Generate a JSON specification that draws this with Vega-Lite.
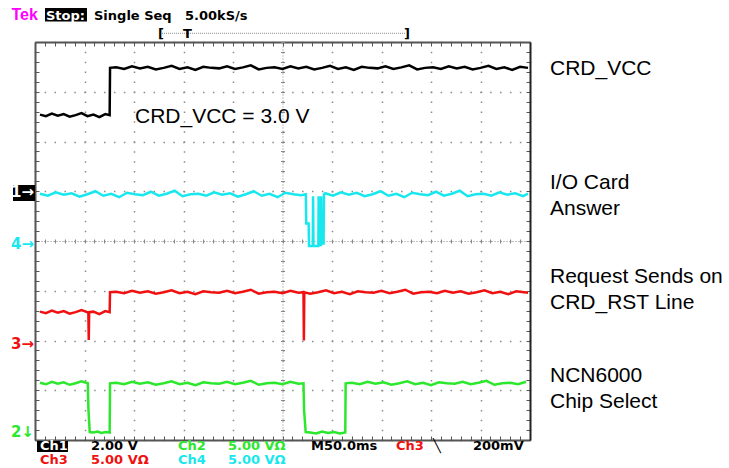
{
  "$schema": "https://vega.github.io/schema/vega-lite/v6.json",
  "width": 495,
  "height": 398,
  "autosize": {"type": "none"},
  "padding": {"left": 35, "top": 42, "right": 199, "bottom": 28},
  "background": "white",
  "config": {
    "view": {"stroke": null},
    "axis": {"labels": false, "domain": false, "ticks": false, "grid": false}
  },
  "resolve": {"axis": {"x": "independent", "y": "independent"}},
  "datasets": {
    "boxes": [
      {"t": 10.1, "t2": 52.5, "v": 8.683, "v2": 8.412},
      {"t": 2.0, "t2": 33.3, "v": -0.02, "v2": -0.241},
      {"t": -22.2, "t2": 0, "v": 5.126, "v2": 4.804}
    ],
    "trig": [{"t": 128.3, "t2": 373.7, "v": 8.175}],
    "labels": [
      {"label": "CRD_VCC", "t": 520.2, "v": 7.337},
      {"label": "I/O Card", "t": 520.2, "v": 5.045},
      {"label": "Answer", "t": 520.2, "v": 4.523},
      {"label": "Request Sends on", "t": 520.2, "v": 3.156},
      {"label": "CRD_RST Line", "t": 520.2, "v": 2.633},
      {"label": "NCN6000", "t": 520.2, "v": 1.166},
      {"label": "Chip Select", "t": 520.2, "v": 0.643},
      {"label": "CRD_VCC = 3.0 V", "t": 101.0, "v": 6.372}
    ],
    "header": [
      {"label": "Tek", "t": -23.7, "v": 8.442, "c": "m"}
    ],
    "status": [
      {"label": "Stop:", "t": 11.1, "v": 8.442, "c": "w"},
      {"label": "Single Seq", "t": 59.6, "v": 8.442, "c": "ch1"},
      {"label": "5.00kS/s", "t": 151.5, "v": 8.442, "c": "ch1"},
      {"label": "[", "t": 124.2, "v": 8.08, "c": "ch1"},
      {"label": "T", "t": 149.5, "v": 8.08, "c": "ch1"},
      {"label": "]", "t": 372.7, "v": 8.08, "c": "ch1"},
      {"label": "Ch1", "t": 5.05, "v": -0.191, "c": "w"},
      {"label": "2.00 V", "t": 56.6, "v": -0.191, "c": "ch1"},
      {"label": "Ch2", "t": 144.4, "v": -0.191, "c": "ch2"},
      {"label": "5.00 VΩ", "t": 194.9, "v": -0.191, "c": "ch2"},
      {"label": "M50.0ms", "t": 278.8, "v": -0.191, "c": "ch1"},
      {"label": "Ch3", "t": 364.6, "v": -0.191, "c": "ch3"},
      {"label": "╲", "t": 402.0, "v": -0.191, "c": "ch1"},
      {"label": "200mV", "t": 442.4, "v": -0.191, "c": "ch1"},
      {"label": "Ch3", "t": 5.05, "v": -0.492, "c": "ch3"},
      {"label": "5.00 VΩ", "t": 56.6, "v": -0.492, "c": "ch3"},
      {"label": "Ch4", "t": 144.4, "v": -0.492, "c": "ch4"},
      {"label": "5.00 VΩ", "t": 194.9, "v": -0.492, "c": "ch4"}
    ],
    "markers": [
      {"label": "1→", "t": -1, "v": 4.884, "c": "w"},
      {"label": "4→", "t": -1, "v": 3.839, "c": "ch4"},
      {"label": "3→", "t": -1, "v": 1.829, "c": "ch3"},
      {"label": "2↓", "t": -1, "v": 0.06, "c": "ch2"}
    ],
    "traces": [
      {"c":"ch1","t":5,"v":6.54},{"c":"ch1","t":11,"v":6.51},{"c":"ch1","t":17,"v":6.56},{"c":"ch1","t":23,"v":6.52},{"c":"ch1","t":29,"v":6.55},{"c":"ch1","t":35,"v":6.50},{"c":"ch1","t":41,"v":6.53},{"c":"ch1","t":47,"v":6.57},{"c":"ch1","t":53,"v":6.51},{"c":"ch1","t":59,"v":6.54},{"c":"ch1","t":65,"v":6.49},{"c":"ch1","t":71,"v":6.55},{"c":"ch1","t":75.4,"v":6.53},
      {"c":"ch1","t":75.8,"v":7.48},{"c":"ch1","t":82,"v":7.49},{"c":"ch1","t":90,"v":7.46},{"c":"ch1","t":98,"v":7.51},{"c":"ch1","t":106,"v":7.47},{"c":"ch1","t":114,"v":7.50},{"c":"ch1","t":122,"v":7.45},{"c":"ch1","t":130,"v":7.48},{"c":"ch1","t":138,"v":7.52},{"c":"ch1","t":146,"v":7.46},{"c":"ch1","t":154,"v":7.49},{"c":"ch1","t":162,"v":7.44},{"c":"ch1","t":170,"v":7.50},{"c":"ch1","t":178,"v":7.48},{"c":"ch1","t":186,"v":7.47},{"c":"ch1","t":194,"v":7.51},{"c":"ch1","t":202,"v":7.46},{"c":"ch1","t":210,"v":7.49},{"c":"ch1","t":218,"v":7.53},{"c":"ch1","t":226,"v":7.45},{"c":"ch1","t":234,"v":7.48},{"c":"ch1","t":242,"v":7.49},{"c":"ch1","t":250,"v":7.46},{"c":"ch1","t":258,"v":7.51},{"c":"ch1","t":266,"v":7.47},{"c":"ch1","t":274,"v":7.50},{"c":"ch1","t":282,"v":7.45},{"c":"ch1","t":290,"v":7.48},{"c":"ch1","t":298,"v":7.52},{"c":"ch1","t":306,"v":7.46},{"c":"ch1","t":314,"v":7.49},{"c":"ch1","t":322,"v":7.44},{"c":"ch1","t":330,"v":7.50},{"c":"ch1","t":338,"v":7.48},{"c":"ch1","t":346,"v":7.47},{"c":"ch1","t":354,"v":7.51},{"c":"ch1","t":362,"v":7.46},{"c":"ch1","t":370,"v":7.49},{"c":"ch1","t":378,"v":7.53},{"c":"ch1","t":386,"v":7.45},{"c":"ch1","t":394,"v":7.48},{"c":"ch1","t":402,"v":7.49},{"c":"ch1","t":410,"v":7.46},{"c":"ch1","t":418,"v":7.51},{"c":"ch1","t":426,"v":7.47},{"c":"ch1","t":434,"v":7.50},{"c":"ch1","t":442,"v":7.45},{"c":"ch1","t":450,"v":7.48},{"c":"ch1","t":458,"v":7.52},{"c":"ch1","t":466,"v":7.46},{"c":"ch1","t":474,"v":7.49},{"c":"ch1","t":482,"v":7.44},{"c":"ch1","t":490,"v":7.50},{"c":"ch1","t":498,"v":7.48},

      {"c":"ch4","t":5,"v":4.95},{"c":"ch4","t":13,"v":4.91},{"c":"ch4","t":21,"v":4.98},{"c":"ch4","t":29,"v":4.93},{"c":"ch4","t":37,"v":4.96},{"c":"ch4","t":45,"v":4.89},{"c":"ch4","t":53,"v":4.94},{"c":"ch4","t":61,"v":5.00},{"c":"ch4","t":69,"v":4.91},{"c":"ch4","t":77,"v":4.95},{"c":"ch4","t":85,"v":4.88},{"c":"ch4","t":93,"v":4.97},{"c":"ch4","t":101,"v":4.94},{"c":"ch4","t":109,"v":4.92},{"c":"ch4","t":117,"v":4.99},{"c":"ch4","t":125,"v":4.91},{"c":"ch4","t":133,"v":4.95},{"c":"ch4","t":141,"v":5.01},{"c":"ch4","t":149,"v":4.90},{"c":"ch4","t":157,"v":4.94},{"c":"ch4","t":165,"v":4.95},{"c":"ch4","t":173,"v":4.91},{"c":"ch4","t":181,"v":4.98},{"c":"ch4","t":189,"v":4.93},{"c":"ch4","t":197,"v":4.96},{"c":"ch4","t":205,"v":4.89},{"c":"ch4","t":213,"v":4.94},{"c":"ch4","t":221,"v":5.00},{"c":"ch4","t":229,"v":4.91},{"c":"ch4","t":237,"v":4.95},{"c":"ch4","t":245,"v":4.88},{"c":"ch4","t":253,"v":4.97},{"c":"ch4","t":261,"v":4.94},{"c":"ch4","t":269,"v":4.92},{"c":"ch4","t":273.6,"v":4.94},
      {"c":"ch4","t":274.0,"v":4.35},{"c":"ch4","t":276.4,"v":4.35},{"c":"ch4","t":276.8,"v":3.90},{"c":"ch4","t":280.6,"v":3.90},{"c":"ch4","t":280.9,"v":4.90},{"c":"ch4","t":281.3,"v":3.90},{"c":"ch4","t":286.2,"v":3.90},{"c":"ch4","t":286.5,"v":4.90},{"c":"ch4","t":286.9,"v":3.92},{"c":"ch4","t":288.8,"v":3.92},{"c":"ch4","t":289.1,"v":4.90},{"c":"ch4","t":289.5,"v":3.95},{"c":"ch4","t":291.5,"v":3.95},{"c":"ch4","t":291.9,"v":4.94},
      {"c":"ch4","t":293,"v":4.96},{"c":"ch4","t":301,"v":4.91},{"c":"ch4","t":309,"v":4.98},{"c":"ch4","t":317,"v":4.93},{"c":"ch4","t":325,"v":4.97},{"c":"ch4","t":333,"v":4.90},{"c":"ch4","t":341,"v":4.94},{"c":"ch4","t":349,"v":5.00},{"c":"ch4","t":357,"v":4.91},{"c":"ch4","t":365,"v":4.95},{"c":"ch4","t":373,"v":4.88},{"c":"ch4","t":381,"v":4.97},{"c":"ch4","t":389,"v":4.94},{"c":"ch4","t":397,"v":4.92},{"c":"ch4","t":405,"v":4.99},{"c":"ch4","t":413,"v":4.91},{"c":"ch4","t":421,"v":4.95},{"c":"ch4","t":429,"v":5.01},{"c":"ch4","t":437,"v":4.90},{"c":"ch4","t":445,"v":4.94},{"c":"ch4","t":453,"v":4.95},{"c":"ch4","t":461,"v":4.91},{"c":"ch4","t":469,"v":4.98},{"c":"ch4","t":477,"v":4.93},{"c":"ch4","t":485,"v":4.96},{"c":"ch4","t":493,"v":4.90},{"c":"ch4","t":498,"v":4.95},

      {"c":"ch3","t":5,"v":2.58},{"c":"ch3","t":11,"v":2.55},{"c":"ch3","t":17,"v":2.60},{"c":"ch3","t":23,"v":2.56},{"c":"ch3","t":29,"v":2.59},{"c":"ch3","t":35,"v":2.54},{"c":"ch3","t":41,"v":2.57},{"c":"ch3","t":47,"v":2.61},{"c":"ch3","t":53.9,"v":2.56},{"c":"ch3","t":54.3,"v":2.01},{"c":"ch3","t":54.7,"v":2.57},{"c":"ch3","t":59,"v":2.58},{"c":"ch3","t":65,"v":2.53},{"c":"ch3","t":71,"v":2.59},{"c":"ch3","t":75.4,"v":2.57},
      {"c":"ch3","t":75.8,"v":2.97},{"c":"ch3","t":82,"v":2.98},{"c":"ch3","t":90,"v":2.95},{"c":"ch3","t":98,"v":3.00},{"c":"ch3","t":106,"v":2.96},{"c":"ch3","t":114,"v":2.99},{"c":"ch3","t":122,"v":2.94},{"c":"ch3","t":130,"v":2.97},{"c":"ch3","t":138,"v":3.01},{"c":"ch3","t":146,"v":2.95},{"c":"ch3","t":154,"v":2.98},{"c":"ch3","t":162,"v":2.93},{"c":"ch3","t":170,"v":2.99},{"c":"ch3","t":178,"v":2.97},{"c":"ch3","t":186,"v":2.96},{"c":"ch3","t":194,"v":3.00},{"c":"ch3","t":202,"v":2.95},{"c":"ch3","t":210,"v":2.98},{"c":"ch3","t":218,"v":3.02},{"c":"ch3","t":226,"v":2.94},{"c":"ch3","t":234,"v":2.97},{"c":"ch3","t":242,"v":2.98},{"c":"ch3","t":250,"v":2.95},{"c":"ch3","t":258,"v":3.00},{"c":"ch3","t":266,"v":2.96},{"c":"ch3","t":271.2,"v":2.97},{"c":"ch3","t":271.6,"v":2.00},{"c":"ch3","t":272.0,"v":2.97},{"c":"ch3","t":278,"v":2.94},{"c":"ch3","t":286,"v":2.97},{"c":"ch3","t":294,"v":3.01},{"c":"ch3","t":302,"v":2.95},{"c":"ch3","t":310,"v":2.98},{"c":"ch3","t":318,"v":2.93},{"c":"ch3","t":326,"v":2.99},{"c":"ch3","t":334,"v":2.97},{"c":"ch3","t":342,"v":2.96},{"c":"ch3","t":350,"v":3.00},{"c":"ch3","t":358,"v":2.95},{"c":"ch3","t":366,"v":2.98},{"c":"ch3","t":374,"v":3.02},{"c":"ch3","t":382,"v":2.94},{"c":"ch3","t":390,"v":2.97},{"c":"ch3","t":398,"v":2.98},{"c":"ch3","t":406,"v":2.95},{"c":"ch3","t":414,"v":3.00},{"c":"ch3","t":422,"v":2.96},{"c":"ch3","t":430,"v":2.99},{"c":"ch3","t":438,"v":2.94},{"c":"ch3","t":446,"v":2.97},{"c":"ch3","t":454,"v":3.01},{"c":"ch3","t":462,"v":2.95},{"c":"ch3","t":470,"v":2.98},{"c":"ch3","t":478,"v":2.93},{"c":"ch3","t":486,"v":2.99},{"c":"ch3","t":494,"v":2.97},{"c":"ch3","t":498,"v":2.96},

      {"c":"ch2","t":5,"v":1.15},{"c":"ch2","t":11,"v":1.12},{"c":"ch2","t":17,"v":1.17},{"c":"ch2","t":23,"v":1.13},{"c":"ch2","t":29,"v":1.16},{"c":"ch2","t":35,"v":1.11},{"c":"ch2","t":41,"v":1.14},{"c":"ch2","t":47,"v":1.18},{"c":"ch2","t":53.3,"v":1.14},{"c":"ch2","t":54.0,"v":0.60},{"c":"ch2","t":55.3,"v":0.16},{"c":"ch2","t":59,"v":0.15},{"c":"ch2","t":63,"v":0.17},{"c":"ch2","t":67,"v":0.14},{"c":"ch2","t":71,"v":0.16},{"c":"ch2","t":75.4,"v":0.15},
      {"c":"ch2","t":75.8,"v":1.14},{"c":"ch2","t":82,"v":1.15},{"c":"ch2","t":90,"v":1.12},{"c":"ch2","t":98,"v":1.17},{"c":"ch2","t":106,"v":1.13},{"c":"ch2","t":114,"v":1.16},{"c":"ch2","t":122,"v":1.11},{"c":"ch2","t":130,"v":1.14},{"c":"ch2","t":138,"v":1.18},{"c":"ch2","t":146,"v":1.12},{"c":"ch2","t":154,"v":1.15},{"c":"ch2","t":162,"v":1.10},{"c":"ch2","t":170,"v":1.16},{"c":"ch2","t":178,"v":1.14},{"c":"ch2","t":186,"v":1.13},{"c":"ch2","t":194,"v":1.17},{"c":"ch2","t":202,"v":1.12},{"c":"ch2","t":210,"v":1.15},{"c":"ch2","t":218,"v":1.19},{"c":"ch2","t":226,"v":1.11},{"c":"ch2","t":234,"v":1.14},{"c":"ch2","t":242,"v":1.15},{"c":"ch2","t":250,"v":1.12},{"c":"ch2","t":258,"v":1.17},{"c":"ch2","t":266,"v":1.13},{"c":"ch2","t":271.2,"v":1.14},{"c":"ch2","t":271.8,"v":0.60},{"c":"ch2","t":273.4,"v":0.16},{"c":"ch2","t":278,"v":0.15},{"c":"ch2","t":284,"v":0.13},{"c":"ch2","t":290,"v":0.17},{"c":"ch2","t":296,"v":0.14},{"c":"ch2","t":302,"v":0.16},{"c":"ch2","t":308,"v":0.13},{"c":"ch2","t":313.4,"v":0.15},
      {"c":"ch2","t":313.8,"v":1.14},{"c":"ch2","t":320,"v":1.15},{"c":"ch2","t":328,"v":1.12},{"c":"ch2","t":336,"v":1.17},{"c":"ch2","t":344,"v":1.13},{"c":"ch2","t":352,"v":1.16},{"c":"ch2","t":360,"v":1.11},{"c":"ch2","t":368,"v":1.14},{"c":"ch2","t":376,"v":1.18},{"c":"ch2","t":384,"v":1.12},{"c":"ch2","t":392,"v":1.15},{"c":"ch2","t":400,"v":1.10},{"c":"ch2","t":408,"v":1.16},{"c":"ch2","t":416,"v":1.14},{"c":"ch2","t":424,"v":1.13},{"c":"ch2","t":432,"v":1.17},{"c":"ch2","t":440,"v":1.12},{"c":"ch2","t":448,"v":1.15},{"c":"ch2","t":456,"v":1.19},{"c":"ch2","t":464,"v":1.11},{"c":"ch2","t":472,"v":1.14},{"c":"ch2","t":480,"v":1.15},{"c":"ch2","t":488,"v":1.12},{"c":"ch2","t":496,"v":1.17}
    ]
  },
  "layer": [
    {
      "data": {"name": "boxes"},
      "mark": {"type": "rect", "color": "#000000"},
      "encoding": {
        "x": {"field": "t", "type": "quantitative", "scale": {"domain": [0, 500], "nice": false, "zero": false},
          "axis": {"orient": "bottom", "title": null, "labels": false, "domain": true, "domainColor": "#555555", "domainWidth": 2, "ticks": true, "tickColor": "#555555", "tickWidth": 1, "tickSize": -4, "grid": false,
            "values": [0,10,20,30,40,50,60,70,80,90,100,110,120,130,140,150,160,170,180,190,200,210,220,230,240,250,260,270,280,290,300,310,320,330,340,350,360,370,380,390,400,410,420,430,440,450,460,470,480,490,500]}},
        "x2": {"field": "t2"},
        "y": {"field": "v", "type": "quantitative", "scale": {"domain": [0, 8], "nice": false, "zero": false},
          "axis": {"orient": "left", "title": null, "labels": false, "domain": true, "domainColor": "#555555", "domainWidth": 2, "ticks": true, "tickColor": "#555555", "tickWidth": 1, "tickSize": -4, "grid": false,
            "values": [0,0.2,0.4,0.6,0.8,1,1.2,1.4,1.6,1.8,2,2.2,2.4,2.6,2.8,3,3.2,3.4,3.6,3.8,4,4.2,4.4,4.6,4.8,5,5.2,5.4,5.6,5.8,6,6.2,6.4,6.6,6.8,7,7.2,7.4,7.6,7.8,8]}},
        "y2": {"field": "v2"}
      }
    },
    {
      "data": {"name": "trig"},
      "mark": {"type": "rule", "color": "#888888", "strokeWidth": 1, "strokeDash": [1, 1]},
      "encoding": {
        "x": {"field": "t", "type": "quantitative", "scale": {"domain": [0, 500], "nice": false, "zero": false},
          "axis": {"orient": "bottom", "title": null, "labels": false, "domain": false, "ticks": false, "grid": true, "gridColor": "#8a8a8a", "gridWidth": 1.5, "gridDash": [1.5, 8.45], "gridDashOffset": 0.75, "gridOpacity": 1,
            "values": [0,50,100,150,200,250,300,350,400,450,500]}},
        "x2": {"field": "t2"},
        "y": {"field": "v", "type": "quantitative", "scale": {"domain": [0, 8], "nice": false, "zero": false},
          "axis": {"orient": "left", "title": null, "labels": false, "domain": false, "ticks": false, "grid": true, "gridColor": "#8a8a8a", "gridWidth": 1.5, "gridDash": [1.5, 8.4], "gridDashOffset": 0.75, "gridOpacity": 1,
            "values": [0,1,2,3,4,5,6,7,8]}}
      }
    },
    {
      "data": {"name": "traces"},
      "mark": {"type": "line", "strokeWidth": 2.5, "clip": true},
      "encoding": {
        "x": {"field": "t", "type": "quantitative", "scale": {"domain": [0, 500], "nice": false, "zero": false},
          "axis": {"orient": "top", "title": null, "labels": false, "domain": true, "domainColor": "#555555", "domainWidth": 2, "ticks": true, "tickColor": "#555555", "tickWidth": 1, "tickSize": -4, "grid": false,
            "values": [0,10,20,30,40,50,60,70,80,90,100,110,120,130,140,150,160,170,180,190,200,210,220,230,240,250,260,270,280,290,300,310,320,330,340,350,360,370,380,390,400,410,420,430,440,450,460,470,480,490,500]}},
        "y": {"field": "v", "type": "quantitative", "scale": {"domain": [0, 8], "nice": false, "zero": false},
          "axis": {"orient": "right", "title": null, "labels": false, "domain": true, "domainColor": "#222222", "domainWidth": 2, "ticks": true, "tickColor": "#555555", "tickWidth": 1, "tickSize": -4, "grid": false,
            "values": [0,0.2,0.4,0.6,0.8,1,1.2,1.4,1.6,1.8,2,2.2,2.4,2.6,2.8,3,3.2,3.4,3.6,3.8,4,4.2,4.4,4.6,4.8,5,5.2,5.4,5.6,5.8,6,6.2,6.4,6.6,6.8,7,7.2,7.4,7.6,7.8,8]}},
        "color": {"field": "c", "type": "nominal", "legend": null,
          "scale": {"domain": ["ch1","ch2","ch3","ch4","w","m","g"], "range": ["#000000","#2ce82c","#f01010","#18e8ee","#ffffff","#ff00ff","#888888"]}}
      }
    },
    {
      "data": {"name": "labels"},
      "mark": {"type": "text", "font": "Liberation Sans", "fontSize": 21, "align": "left", "baseline": "alphabetic", "color": "#000000"},
      "encoding": {
        "x": {"field": "t", "type": "quantitative", "scale": {"domain": [0, 500], "nice": false, "zero": false},
          "axis": {"orient": "bottom", "offset": -199, "title": null, "labels": false, "domain": true, "domainColor": "#888888", "domainWidth": 1, "domainDash": [1, 2], "ticks": true, "tickColor": "#888888", "tickWidth": 1, "tickSize": 2, "grid": false,
            "values": [0,10,20,30,40,50,60,70,80,90,100,110,120,130,140,150,160,170,180,190,200,210,220,230,240,250,260,270,280,290,300,310,320,330,340,350,360,370,380,390,400,410,420,430,440,450,460,470,480,490,500]}},
        "y": {"field": "v", "type": "quantitative", "scale": {"domain": [0, 8], "nice": false, "zero": false},
          "axis": {"orient": "left", "offset": -247.5, "title": null, "labels": false, "domain": true, "domainColor": "#888888", "domainWidth": 1, "domainDash": [1, 2], "ticks": true, "tickColor": "#888888", "tickWidth": 1, "tickSize": 2, "grid": false,
            "values": [0,0.2,0.4,0.6,0.8,1,1.2,1.4,1.6,1.8,2,2.2,2.4,2.6,2.8,3,3.2,3.4,3.6,3.8,4,4.2,4.4,4.6,4.8,5,5.2,5.4,5.6,5.8,6,6.2,6.4,6.6,6.8,7,7.2,7.4,7.6,7.8,8]}},
        "text": {"field": "label"}
      }
    },
    {
      "data": {"name": "status"},
      "mark": {"type": "text", "font": "DejaVu Sans", "fontWeight": "bold", "fontSize": 13, "align": "left", "baseline": "alphabetic"},
      "encoding": {
        "x": {"field": "t", "type": "quantitative", "scale": {"domain": [0, 500], "nice": false, "zero": false},
          "axis": {"orient": "bottom", "offset": -199, "title": null, "labels": false, "domain": false, "ticks": true, "tickColor": "#888888", "tickWidth": 1, "tickSize": -2, "grid": false,
            "values": [0,10,20,30,40,50,60,70,80,90,100,110,120,130,140,150,160,170,180,190,200,210,220,230,240,250,260,270,280,290,300,310,320,330,340,350,360,370,380,390,400,410,420,430,440,450,460,470,480,490,500]}},
        "y": {"field": "v", "type": "quantitative", "scale": {"domain": [0, 8], "nice": false, "zero": false},
          "axis": {"orient": "left", "offset": -247.5, "title": null, "labels": false, "domain": false, "ticks": true, "tickColor": "#888888", "tickWidth": 1, "tickSize": -2, "grid": false,
            "values": [0,0.2,0.4,0.6,0.8,1,1.2,1.4,1.6,1.8,2,2.2,2.4,2.6,2.8,3,3.2,3.4,3.6,3.8,4,4.2,4.4,4.6,4.8,5,5.2,5.4,5.6,5.8,6,6.2,6.4,6.6,6.8,7,7.2,7.4,7.6,7.8,8]}},
        "text": {"field": "label"},
        "color": {"field": "c", "type": "nominal", "legend": null,
          "scale": {"domain": ["ch1","ch2","ch3","ch4","w","m","g"], "range": ["#000000","#2ce82c","#f01010","#18e8ee","#ffffff","#ff00ff","#888888"]}}
      }
    },
    {
      "data": {"name": "header"},
      "mark": {"type": "text", "font": "Liberation Sans", "fontWeight": "bold", "fontSize": 16, "align": "left", "baseline": "alphabetic"},
      "encoding": {
        "x": {"field": "t", "type": "quantitative", "scale": {"domain": [0, 500], "nice": false, "zero": false}, "axis": null},
        "y": {"field": "v", "type": "quantitative", "scale": {"domain": [0, 8], "nice": false, "zero": false}, "axis": null},
        "text": {"field": "label"},
        "color": {"field": "c", "type": "nominal", "legend": null,
          "scale": {"domain": ["ch1","ch2","ch3","ch4","w","m","g"], "range": ["#000000","#2ce82c","#f01010","#18e8ee","#ffffff","#ff00ff","#888888"]}}
      }
    },
    {
      "data": {"name": "markers"},
      "mark": {"type": "text", "font": "DejaVu Sans", "fontWeight": "bold", "fontSize": 15, "align": "right", "baseline": "alphabetic"},
      "encoding": {
        "x": {"field": "t", "type": "quantitative", "scale": {"domain": [0, 500], "nice": false, "zero": false}, "axis": null},
        "y": {"field": "v", "type": "quantitative", "scale": {"domain": [0, 8], "nice": false, "zero": false}, "axis": null},
        "text": {"field": "label"},
        "color": {"field": "c", "type": "nominal", "legend": null,
          "scale": {"domain": ["ch1","ch2","ch3","ch4","w","m","g"], "range": ["#000000","#2ce82c","#f01010","#18e8ee","#ffffff","#ff00ff","#888888"]}}
      }
    }
  ]
}
